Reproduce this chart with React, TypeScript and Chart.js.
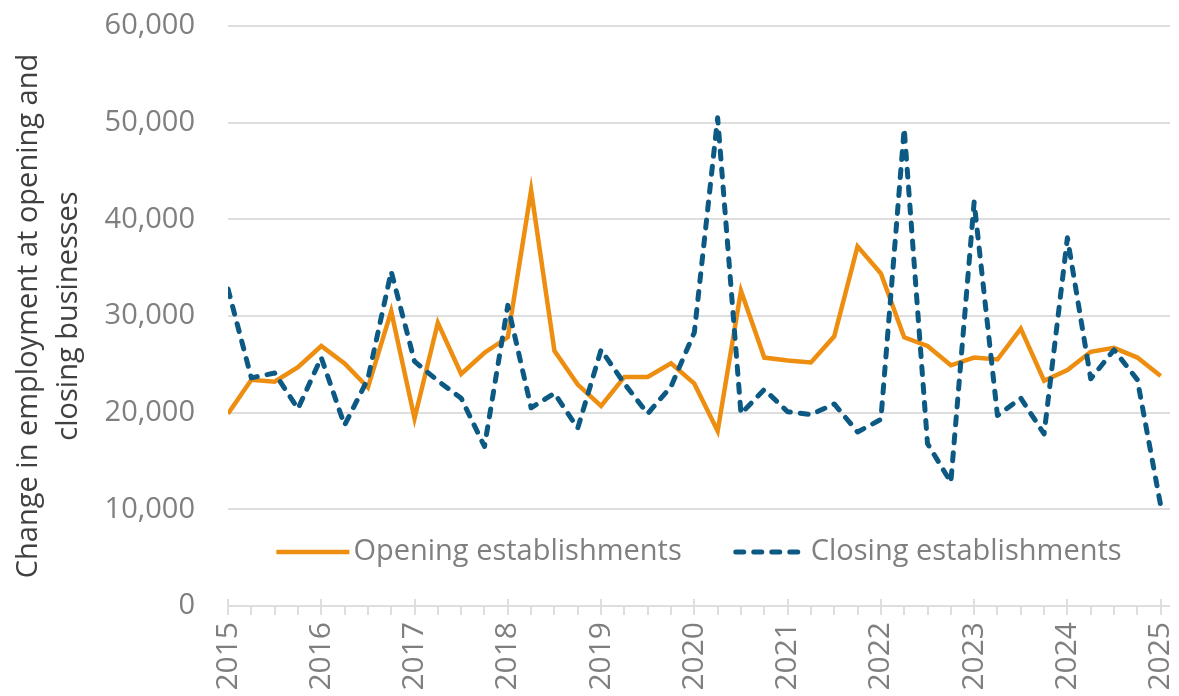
import React, { useEffect, useRef } from 'react';
import { Chart, registerables } from 'chart.js';

Chart.register(...registerables);

// Quarterly periods, 2015 Q1 .. 2025 Q1
const quarterLabels = [
  '2015 Q1', '2015 Q2', '2015 Q3', '2015 Q4',
  '2016 Q1', '2016 Q2', '2016 Q3', '2016 Q4',
  '2017 Q1', '2017 Q2', '2017 Q3', '2017 Q4',
  '2018 Q1', '2018 Q2', '2018 Q3', '2018 Q4',
  '2019 Q1', '2019 Q2', '2019 Q3', '2019 Q4',
  '2020 Q1', '2020 Q2', '2020 Q3', '2020 Q4',
  '2021 Q1', '2021 Q2', '2021 Q3', '2021 Q4',
  '2022 Q1', '2022 Q2', '2022 Q3', '2022 Q4',
  '2023 Q1', '2023 Q2', '2023 Q3', '2023 Q4',
  '2024 Q1', '2024 Q2', '2024 Q3', '2024 Q4',
  '2025 Q1',
];

const yearLabels = ['2015', '2016', '2017', '2018', '2019', '2020', '2021', '2022', '2023', '2024', '2025'];

const openingEstablishments = [
  19900, 23400, 23200, 24700,
  26900, 25100, 22600, 30500,
  19400, 29300, 24000, 26200,
  27800, 43000, 26400, 22900,
  20700, 23700, 23700, 25100,
  23000, 18100, 32600, 25700,
  25400, 25200, 27900, 37200,
  34400, 27800, 26900, 24900,
  25700, 25500, 28700, 23300,
  24400, 26300, 26700, 25700,
  23800,
];

const closingEstablishments = [
  32800, 23600, 24100, 20400,
  25700, 18700, 23500, 34600,
  25300, 23300, 21500, 16500,
  31100, 20500, 22000, 18400,
  26500, 23000, 19900, 22700,
  28300, 50500, 19900, 22400,
  20100, 19800, 20900, 18000,
  19300, 49400, 16800, 12800,
  41800, 19700, 21500, 17800,
  38100, 23500, 26500, 23400,
  10400,
];

const yTitle = ['Change in employment at opening and', 'closing businesses'];

const FONT = "'Open Sans', 'Noto Sans', sans-serif";
const ORANGE = '#EE8E11';
const BLUE = '#0C5A83';
const GRID = '#dedede';
const TEXT = '#7f7f7f';

const tickMarks = {
  id: 'tickMarks',
  afterDraw(chart: any) {
    const xs = chart.scales.x;
    const area = chart.chartArea;
    const ctx = chart.ctx;
    ctx.save();
    ctx.strokeStyle = GRID;
    ctx.lineWidth = 2;
    quarterLabels.forEach((_q, i) => {
      const px = Math.round(xs.getPixelForValue(i));
      const major = i % 4 === 0;
      ctx.beginPath();
      ctx.moveTo(px, area.bottom + (major ? -7 : 0));
      ctx.lineTo(px, area.bottom + 9);
      ctx.stroke();
    });
    ctx.restore();
  },
};

const insideLegend = {
  id: 'insideLegend',
  afterDraw(chart: any) {
    const { ctx, chartArea } = chart;
    ctx.save();
    ctx.font = `29px ${FONT}`;
    const lineLen = 73;
    const textGap = 4;
    const itemGap = 52;
    const items = chart.data.datasets.map((ds: any) => ({
      label: ds.label,
      color: ds.borderColor,
      dash: ds.borderDash || [],
      width: ds.borderWidth,
      w: lineLen + textGap + ctx.measureText(ds.label).width,
    }));
    const total = items.reduce((s: number, it: any) => s + it.w, 0) + itemGap * (items.length - 1);
    let x = (chartArea.left + chartArea.right) / 2 - total / 2;
    const y = chartArea.bottom - 54;
    items.forEach((it: any) => {
      ctx.beginPath();
      ctx.setLineDash(it.dash);
      ctx.lineCap = it.dash.length ? 'round' : 'butt';
      ctx.lineWidth = it.width;
      ctx.strokeStyle = it.color;
      ctx.moveTo(x + (it.dash.length ? 2 : 0), y);
      ctx.lineTo(x + lineLen - (it.dash.length ? 2 : 0), y);
      ctx.stroke();
      ctx.setLineDash([]);
      ctx.fillStyle = TEXT;
      ctx.textBaseline = 'middle';
      ctx.textAlign = 'left';
      ctx.fillText(it.label, x + lineLen + textGap, y);
      x += it.w + itemGap;
    });
    ctx.restore();
  },
};

export default function App() {
  const canvasRef = useRef<HTMLCanvasElement | null>(null);

  useEffect(() => {
    const canvas = canvasRef.current;
    if (!canvas) return;
    Chart.defaults.font.family = FONT;

    const chart = new Chart(canvas, {
      type: 'line',
      data: {
        datasets: [
          {
            label: 'Opening establishments',
            data: openingEstablishments.map((v, i) => ({ x: i, y: v })),
            borderColor: ORANGE,
            backgroundColor: ORANGE,
            borderWidth: 4.5,
            pointRadius: 0,
            tension: 0,
            borderJoinStyle: 'miter',
            order: 1,
          },
          {
            label: 'Closing establishments',
            data: closingEstablishments.map((v, i) => ({ x: i, y: v })),
            borderColor: BLUE,
            backgroundColor: BLUE,
            borderWidth: 5,
            borderDash: [8, 10],
            borderCapStyle: 'round',
            borderJoinStyle: 'round',
            pointRadius: 0,
            tension: 0,
            order: 0,
          },
        ],
      },
      options: {
        responsive: false,
        animation: false,
        devicePixelRatio: 1,
        layout: { padding: { top: 26, right: 9, left: 0, bottom: 0 } },
        plugins: {
          legend: { display: false },
          tooltip: { enabled: false },
        },
        scales: {
          x: {
            type: 'linear',
            min: 0,
            max: 40.4,
            afterFit(s: any) {
              s.height = 94;
              s.paddingLeft = 0;
              s.paddingRight = 0;
            },
            grid: { display: false, drawTicks: false },
            border: { display: false },
            ticks: {
              stepSize: 4,
              includeBounds: false,
              autoSkip: false,
              minRotation: 90,
              maxRotation: 90,
              padding: 16,
              color: TEXT,
              font: { size: 30, family: FONT },
              callback: (v: any) => {
                const n = Number(v);
                return Number.isInteger(n / 4) ? yearLabels[n / 4] : '';
              },
            },
          },
          y: {
            min: 0,
            max: 60000,
            afterFit(s: any) {
              s.width = 228;
              s.paddingTop = 0;
              s.paddingBottom = 0;
            },
            grid: { color: GRID, lineWidth: 2, drawTicks: false },
            border: { display: false },
            ticks: {
              stepSize: 10000,
              padding: 33,
              color: TEXT,
              font: { size: 29, family: FONT },
              callback: (v: any) => Number(v).toLocaleString('en-US'),
            },
            title: {
              display: true,
              text: yTitle,
              color: '#404040',
              font: { size: 29, family: FONT, lineHeight: 1.38 },
              padding: { top: 9, bottom: 0 },
            },
          },
        },
      },
      plugins: [tickMarks, insideLegend],
    } as any);

    return () => chart.destroy();
  }, []);

  return (
    <div style={{ position: 'fixed', left: 0, top: 0, width: 1179, height: 700, background: '#fff' }}>
      <canvas ref={canvasRef} width={1179} height={700} style={{ display: 'block', width: 1179, height: 700 }} />
    </div>
  );
}
